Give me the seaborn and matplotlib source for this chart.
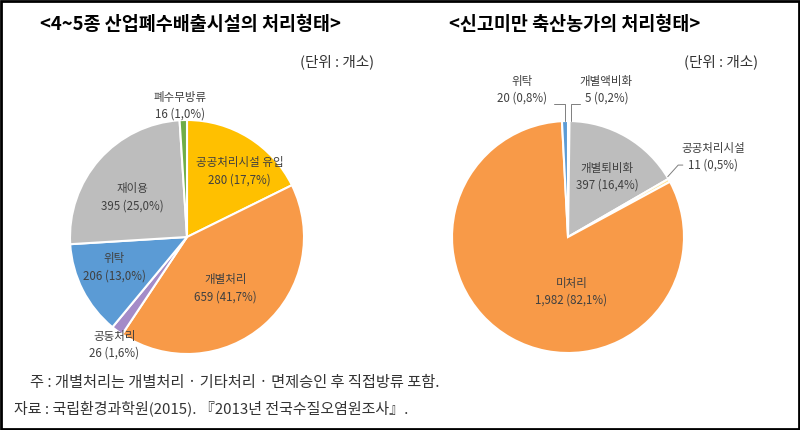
import matplotlib.pyplot as plt
import seaborn as sns
from matplotlib.patches import Rectangle

# data
left_title = "<4~5종 산업폐수배출시설의 처리형태>"
left_labels = ["공공처리시설 유입", "개별처리", "공동처리", "위탁", "재이용", "폐수무방류"]
left_counts = [280, 659, 26, 206, 395, 16]
left_pcts = ["17,7%", "41,7%", "1,6%", "13,0%", "25,0%", "1,0%"]
left_colors = ["#FFC000", "#F89A48", "#A48BC8", "#5B9BD5", "#BDBDBD", "#70AD47"]

right_title = "<신고미만 축산농가의 처리형태>"
right_labels = ["개별액비화", "개별퇴비화", "공공처리시설", "미처리", "위탁"]
right_counts = [5, 397, 11, 1982, 20]
right_count_text = ["5", "397", "11", "1,982", "20"]
right_pcts = ["0,2%", "16,4%", "0,5%", "82,1%", "0,8%"]
right_colors = ["#9DC3E6", "#BDBDBD", "#FFE699", "#F89A48", "#5B9BD5"]

unit_text = "(단위 : 개소)"
note_text = "주 : 개별처리는 개별처리 · 기타처리 · 면제승인 후 직접방류 포함."
source_text = "자료 : 국립환경과학원(2015). 『2013년 전국수질오염원조사』."

sns.set_theme(style="white")
plt.rcParams["font.family"] = ["Noto Sans CJK KR", "DejaVu Sans"]

fig = plt.figure(figsize=(8, 4.3), dpi=100)
W, H = 800, 430


def pie_axes(cx, cy, r):
    return fig.add_axes([(cx - r) / W, (H - cy - r) / H, 2 * r / W, 2 * r / H])


def finish(ax):
    ax.set_xlim(-1, 1)
    ax.set_ylim(-1, 1)
    ax.axis("off")


wedge_style = dict(edgecolor="white", linewidth=1.5)
lab_kw = dict(ha="center", va="center", fontsize=8.3, color="#404040", linespacing=1.4)

# left pie
ax1 = pie_axes(187, 237, 117)
ax1.pie(left_counts, colors=left_colors, startangle=90, counterclock=False,
        radius=1, wedgeprops=wedge_style)
finish(ax1)
left_pos = [(0.45, 0.56), (0.33, -0.44), (-0.62, -0.92), (-0.62, -0.26),
            (-0.47, 0.34), (-0.06, 1.12)]
for lab, n, p, (x, y) in zip(left_labels, left_counts, left_pcts, left_pos):
    ax1.text(x, y, f"{lab}\n{n} ({p})", **lab_kw)

# right pie
ax2 = pie_axes(568, 237, 116)
ax2.pie(right_counts, colors=right_colors, startangle=90, counterclock=False,
        radius=1, wedgeprops=wedge_style)
finish(ax2)
right_pos = [(0.33, 1.27), (0.34, 0.52), (1.25, 0.69), (0.03, -0.47), (-0.40, 1.27)]
for lab, n, p, (x, y) in zip(right_labels, right_count_text, right_pcts, right_pos):
    ax2.text(x, y, f"{lab}\n{n} ({p})", **lab_kw)

# leader lines for the thin slices
line_kw = dict(color="#7F7F7F", lw=0.7, clip_on=False)
ax2.plot([-0.12, -0.03, -0.03], [1.15, 1.15, 1.0], **line_kw)
ax2.plot([0.10, 0.03, 0.03], [1.15, 1.15, 1.0], **line_kw)
ax2.plot([0.99, 0.95, 0.86], [0.62, 0.62, 0.52], **line_kw)

# titles and unit labels
fig.text(190 / W, 1 - 25 / H, left_title, ha="center", va="center",
         fontsize=13.3, fontweight="bold", color="black")
fig.text(575 / W, 1 - 25 / H, right_title, ha="center", va="center",
         fontsize=13.3, fontweight="bold", color="black")
fig.text(374 / W, 1 - 62 / H, unit_text, ha="right", va="center", fontsize=10.5, color="#333333")
fig.text(758 / W, 1 - 62 / H, unit_text, ha="right", va="center", fontsize=10.5, color="#333333")

# notes
fig.text(30 / W, 1 - 383 / H, note_text, ha="left", va="center", fontsize=11, color="#333333")
fig.text(14 / W, 1 - 408 / H, source_text, ha="left", va="center", fontsize=10.8, color="#333333")

# frame around the whole picture
fig.patches.append(Rectangle((0.0015, 0.003), 0.997, 0.994, transform=fig.transFigure,
                             fill=False, edgecolor="black", linewidth=2))

fig.savefig("out.png", dpi=100)
